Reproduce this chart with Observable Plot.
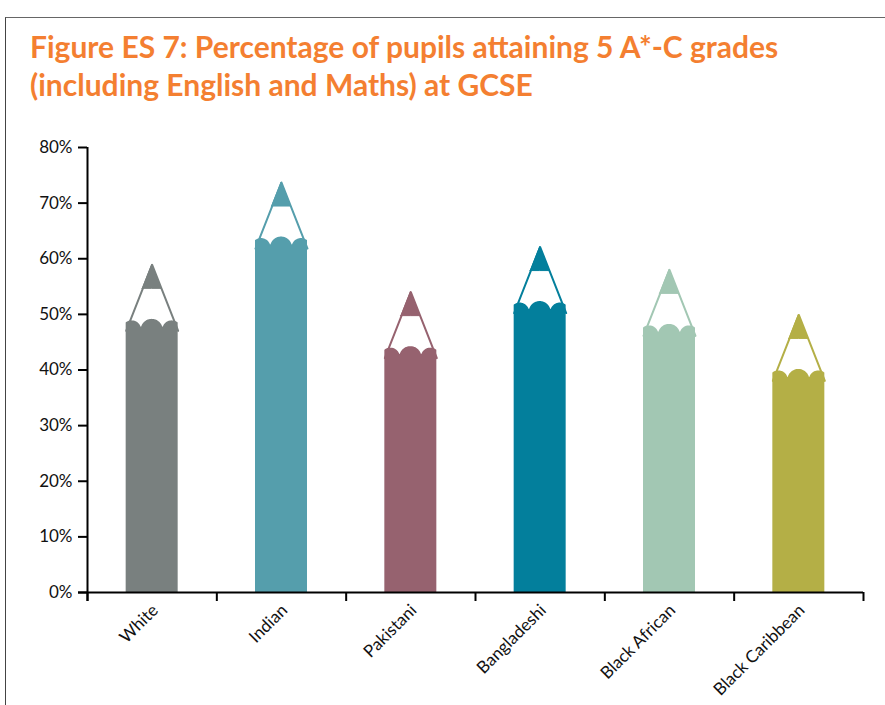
<!DOCTYPE html>
<html>
<head>
<meta charset="utf-8">
<script src="https://cdn.jsdelivr.net/npm/d3@7"></script>
<script src="https://cdn.jsdelivr.net/npm/@observablehq/plot@0.6"></script>
<style>
  html, body { margin: 0; padding: 0; background: #fff; }
  #page { position: relative; width: 885px; height: 705px; overflow: hidden; background: #fff; }
  #frame { position: absolute; left: 5px; top: 17px; width: 900px; height: 720px; border-left: 1.5px solid #444; border-top: 1.5px solid #666; }
  #title { position: absolute; left: 30px; top: 27px; font-family: Lato, "Open Sans", sans-serif; font-weight: 700; font-size: 30px; line-height: 38px; color: #f47f31; white-space: nowrap; }
  #chart { position: absolute; left: 0; top: 130px; }
</style>
</head>
<body>
<div id="page">
  <div id="frame"></div>
  <div id="title">Figure ES 7: Percentage of pupils attaining 5 A*-C grades<br>(including English and Maths) at GCSE</div>
  <div id="chart"></div>
</div>
<script>
// ---- data ----
const categories = ["White", "Indian", "Pakistani", "Bangladeshi", "Black African", "Black Caribbean"];
const values = [58.9, 73.7, 54.0, 62.1, 58.0, 49.9];
const colors = ["#79807f", "#559eac", "#96626f", "#037f9c", "#a2c7b3", "#b4af46"];
const yTicks = [0, 10, 20, 30, 40, 50, 60, 70, 80];
const yTickLabels = ["0%", "10%", "20%", "30%", "40%", "50%", "60%", "70%", "80%"];
const xBoundaries = [0, 1, 2, 3, 4, 5, 6];

// ---- layout ----
const W = 885, H = 575, ML = 87, MR = 22, MT = 17, MB = 113;
const pxX = (W - ML - MR) / categories.length;   // pixels per category unit
const pxY = (H - MT - MB) / 80;                   // pixels per percentage point

// pencil shape (pixels)
const HALF = 26, CONE = 66, TIP = 24, LIFT = 0.5;
const bumps = [{off: -20, r: 9.5}, {off: 0, r: 11}, {off: 20, r: 9.5}];
const TICK = 9;

const bodyPts = [], conePts = [], tipPts = [];
categories.forEach((g, i) => {
  const cx = i + 0.5, v = values[i];
  const top = v - CONE / pxY;
  for (let k = 0; k <= 2 * HALF; k += 0.5) {
    const xp = -HALF + k;
    let h = 0;
    for (const b of bumps) {
      const d = xp - b.off;
      if (Math.abs(d) <= b.r) h = Math.max(h, LIFT + Math.sqrt(b.r * b.r - d * d));
    }
    bodyPts.push({group: g, x: cx + xp / pxX, y: top + h / pxY});
  }
  conePts.push({group: g, x: cx - HALF / pxX, y: top});
  conePts.push({group: g, x: cx, y: v});
  conePts.push({group: g, x: cx + HALF / pxX, y: top});
  const base = v - TIP / pxY, tw = TIP * HALF / CONE;
  tipPts.push({group: g, x: cx - tw / pxX, y: base, base});
  tipPts.push({group: g, x: cx, y: v, base});
  tipPts.push({group: g, x: cx + tw / pxX, y: base, base});
});

const chart = Plot.plot({
  width: W, height: H,
  marginLeft: ML, marginRight: MR, marginTop: MT, marginBottom: MB,
  x: {domain: [0, categories.length], axis: null},
  y: {domain: [0, 80], axis: null},
  color: {domain: categories, range: colors},
  style: {fontFamily: "Lato, 'Open Sans', sans-serif", fontSize: "17px", color: "#111", background: "transparent", overflow: "visible"},
  marks: [
    Plot.line(conePts, {x: "x", y: "y", z: "group", stroke: "group", strokeWidth: 2, fill: "white"}),
    Plot.areaY(bodyPts, {x: "x", y1: 0, y2: "y", z: "group", fill: "group"}),
    Plot.areaY(tipPts, {x: "x", y1: "base", y2: "y", z: "group", fill: "group", stroke: "group", strokeWidth: 1}),
    // axes
    Plot.ruleX([0], {y1: -TICK / pxY, y2: 80, stroke: "#000", strokeWidth: 2}),
    Plot.ruleY([0], {x1: -TICK / pxX, x2: categories.length, stroke: "#000", strokeWidth: 2}),
    Plot.ruleY(yTicks, {y: d => d, x1: -TICK / pxX, x2: 0, stroke: "#000", strokeWidth: 2}),
    Plot.ruleX(xBoundaries, {x: d => d, y1: -TICK / pxY, y2: 0, stroke: "#000", strokeWidth: 2}),
    Plot.text(yTicks, {x: 0, y: d => d, text: (d, i) => yTickLabels[i], textAnchor: "end", dx: -15, fontSize: 17, fill: "#111"}),
    Plot.text(categories, {x: (d, i) => i + 0.5, y: 0, text: d => d, rotate: -45, textAnchor: "end", dx: 3, dy: 15, fontSize: 17, fill: "#111"})
  ]
});
document.getElementById("chart").appendChild(chart);
</script>
</body>
</html>
